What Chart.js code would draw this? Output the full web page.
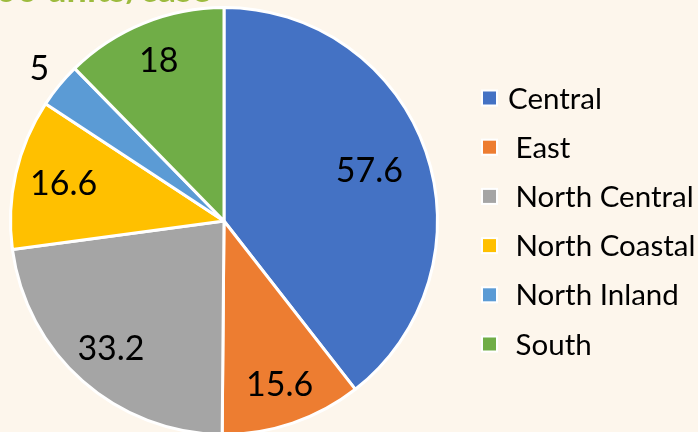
<!DOCTYPE html>
<html>
<head>
<meta charset="utf-8">
<script src="https://cdn.jsdelivr.net/npm/chart.js@4/dist/chart.umd.min.js"></script>
<style>
  html, body { margin: 0; padding: 0; background: #fdf6ec; overflow: hidden; width: 698px; height: 432px; }
  #wrap { position: absolute; left: 0; top: 0; width: 698px; height: 450px; }
  #title {
    position: absolute; right: 487px; top: -34px; line-height: 43px;
    white-space: nowrap; font: bold 36px Lato, sans-serif; color: #9dbb3e;
  }
</style>
</head>
<body>
<div id="wrap"><canvas id="regionPie" width="698" height="450"></canvas></div>
<div id="title">('000 units/case</div>
<script>
const categories = ["Central", " East", " North Central", " North Coastal", " North Inland", " South"];
const salesValues = [57.6, 15.6, 33.2, 16.6, 5, 18];
const sliceColors = ["#4472c4", "#ed7d31", "#a5a5a5", "#ffc000", "#5b9bd5", "#70ad47"];

// how far out each value label sits, as a share of the radius
const labelRadius = [0.72, 0.81, 0.80, 0.77, 1.12, 0.81];

// data labels drawn on top of the slices
const valueLabels = {
  id: "valueLabels",
  afterDatasetsDraw: (chart) => {
    const { ctx } = chart;
    const arcs = chart.getDatasetMeta(0).data;
    ctx.save();
    ctx.font = "34px Lato, sans-serif";
    ctx.fillStyle = "#000";
    ctx.textAlign = "center";
    ctx.textBaseline = "middle";
    arcs.forEach((arc, i) => {
      const mid = (arc.startAngle + arc.endAngle) / 2;
      const r = arc.outerRadius * labelRadius[i];
      ctx.fillText(String(salesValues[i]), arc.x + Math.cos(mid) * r, arc.y + Math.sin(mid) * r);
    });
    ctx.restore();
  },
};

// legend on the right, placed by hand
const sideLegend = {
  id: "sideLegend",
  afterDraw: (chart) => {
    const { ctx } = chart;
    ctx.save();
    ctx.font = "29.5px Lato, sans-serif";
    ctx.textBaseline = "middle";
    categories.forEach((name, i) => {
      const y = 98 + i * 49.2;
      ctx.fillStyle = "#fff";
      ctx.fillRect(481, y - 8.5, 17, 17);
      ctx.fillStyle = sliceColors[i];
      ctx.fillRect(483, y - 6.5, 13, 13);
      ctx.fillStyle = "#000";
      ctx.fillText(name, 508, y + 1);
    });
    ctx.restore();
  },
};

new Chart(document.getElementById("regionPie").getContext("2d"), {
  type: "pie",
  data: {
    labels: categories,
    datasets: [
      {
        data: salesValues,
        backgroundColor: sliceColors,
        borderColor: "#ffffff",
        borderWidth: 3,
      },
    ],
  },
  options: {
    responsive: false,
    animation: false,
    layout: { padding: { top: 6, bottom: 14, left: 9, right: 259 } },
    plugins: {
      legend: { display: false },
      tooltip: { enabled: false },
    },
  },
  plugins: [valueLabels, sideLegend],
});
</script>
</body>
</html>
